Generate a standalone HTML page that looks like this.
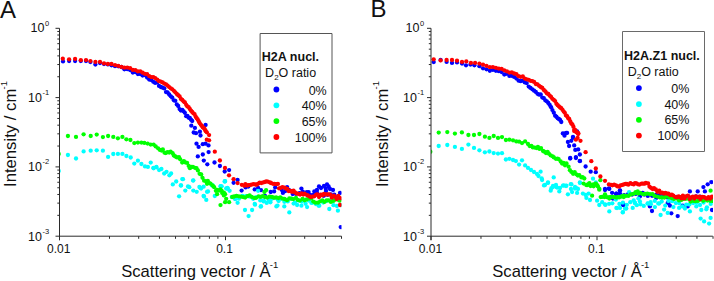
<!DOCTYPE html>
<html><head><meta charset="utf-8"><style>
html,body{margin:0;padding:0;background:#fff;width:714px;height:281px;overflow:hidden}
.t{position:absolute;font-family:"Liberation Sans",sans-serif;color:#111;white-space:nowrap;line-height:1}
.sp{font-size:7.5px;position:relative;top:-6.9px;margin-left:0.7px}
.sl{font-size:9.5px;position:relative;top:-9px;margin-left:-0.8px}
.sb{font-size:8px;position:relative;top:3px}
</style></head><body>
<svg width="714" height="281" style="position:absolute;left:0;top:0">
<defs>
<clipPath id="ca"><rect x="59.5" y="20" width="282" height="216"/></clipPath>
<clipPath id="cb"><rect x="431" y="20" width="282" height="216"/></clipPath>
</defs>
<g fill="#0000ff" clip-path="url(#ca)">
<circle cx="63.0" cy="61.4" r="2.15"/><circle cx="69.1" cy="61.0" r="2.15"/><circle cx="75.1" cy="61.0" r="2.15"/><circle cx="80.8" cy="61.0" r="2.15"/><circle cx="86.0" cy="61.0" r="2.15"/><circle cx="90.4" cy="62.0" r="2.15"/><circle cx="95.4" cy="64.5" r="2.15"/><circle cx="100.0" cy="63.0" r="2.15"/><circle cx="104.0" cy="64.1" r="2.15"/><circle cx="107.9" cy="64.4" r="2.15"/><circle cx="111.5" cy="65.3" r="2.15"/><circle cx="115.0" cy="66.2" r="2.15"/><circle cx="118.3" cy="66.3" r="2.15"/><circle cx="121.4" cy="67.0" r="2.15"/><circle cx="124.4" cy="69.3" r="2.15"/><circle cx="127.3" cy="69.2" r="2.15"/><circle cx="130.1" cy="70.0" r="2.15"/><circle cx="132.8" cy="72.5" r="2.15"/><circle cx="135.4" cy="72.2" r="2.15"/><circle cx="137.9" cy="74.1" r="2.15"/><circle cx="140.3" cy="74.1" r="2.15"/><circle cx="142.6" cy="75.5" r="2.15"/><circle cx="144.9" cy="75.0" r="2.15"/><circle cx="147.1" cy="77.6" r="2.15"/><circle cx="149.2" cy="79.6" r="2.15"/><circle cx="151.3" cy="80.0" r="2.15"/><circle cx="153.3" cy="81.8" r="2.15"/><circle cx="155.2" cy="82.9" r="2.15"/><circle cx="157.2" cy="82.4" r="2.15"/><circle cx="159.0" cy="85.9" r="2.15"/><circle cx="160.8" cy="87.0" r="2.15"/><circle cx="162.6" cy="87.7" r="2.15"/><circle cx="164.3" cy="88.4" r="2.15"/><circle cx="166.0" cy="92.1" r="2.15"/><circle cx="167.6" cy="92.5" r="2.15"/><circle cx="169.2" cy="94.5" r="2.15"/><circle cx="170.8" cy="96.3" r="2.15"/><circle cx="172.3" cy="97.7" r="2.15"/><circle cx="173.9" cy="100.3" r="2.15"/><circle cx="175.3" cy="100.8" r="2.15"/><circle cx="176.8" cy="104.4" r="2.15"/><circle cx="178.2" cy="106.0" r="2.15"/><circle cx="179.6" cy="109.1" r="2.15"/><circle cx="180.9" cy="110.5" r="2.15"/><circle cx="182.3" cy="109.8" r="2.15"/><circle cx="183.6" cy="111.3" r="2.15"/><circle cx="184.9" cy="112.8" r="2.15"/><circle cx="186.2" cy="116.2" r="2.15"/><circle cx="187.4" cy="115.9" r="2.15"/><circle cx="188.6" cy="117.7" r="2.15"/><circle cx="189.8" cy="118.0" r="2.15"/><circle cx="191.0" cy="119.7" r="2.15"/><circle cx="192.2" cy="121.0" r="2.15"/><circle cx="191.3" cy="125.7" r="2.15"/><circle cx="194.9" cy="127.9" r="2.15"/><circle cx="193.7" cy="132.5" r="2.15"/><circle cx="196.0" cy="133.2" r="2.15"/><circle cx="199.9" cy="131.7" r="2.15"/><circle cx="200.5" cy="135.5" r="2.15"/><circle cx="205.6" cy="125.0" r="2.15"/><circle cx="196.5" cy="143.7" r="2.15"/><circle cx="198.6" cy="146.9" r="2.15"/><circle cx="202.8" cy="144.2" r="2.15"/><circle cx="205.6" cy="143.7" r="2.15"/><circle cx="208.5" cy="145.4" r="2.15"/><circle cx="208.6" cy="152.1" r="2.15"/><circle cx="202.8" cy="154.5" r="2.15"/><circle cx="197.8" cy="156.4" r="2.15"/><circle cx="203.8" cy="160.6" r="2.15"/><circle cx="207.3" cy="164.3" r="2.15"/><circle cx="214.5" cy="162.5" r="2.15"/><circle cx="219.9" cy="166.0" r="2.15"/><circle cx="224.7" cy="171.5" r="2.15"/><circle cx="229.1" cy="170.1" r="2.15"/><circle cx="233.6" cy="182.8" r="2.15"/><circle cx="237.6" cy="180.0" r="2.15"/><circle cx="241.6" cy="190.6" r="2.15"/><circle cx="245.6" cy="187.4" r="2.15"/><circle cx="254.7" cy="189.4" r="2.15"/><circle cx="258.1" cy="188.0" r="2.15"/><circle cx="261.0" cy="190.2" r="2.15"/><circle cx="270.7" cy="192.0" r="2.15"/><circle cx="275.2" cy="187.4" r="2.15"/><circle cx="274.1" cy="191.4" r="2.15"/><circle cx="265.0" cy="196.0" r="2.15"/><circle cx="282.9" cy="192.9" r="2.15"/><circle cx="287.1" cy="187.1" r="2.15"/><circle cx="301.4" cy="188.6" r="2.15"/><circle cx="308.6" cy="192.1" r="2.15"/><circle cx="314.3" cy="191.4" r="2.15"/><circle cx="325.7" cy="188.6" r="2.15"/><circle cx="328.6" cy="186.4" r="2.15"/><circle cx="340.0" cy="192.9" r="2.15"/><circle cx="340.7" cy="227.1" r="2.15"/><circle cx="248.4" cy="186.5" r="2.15"/><circle cx="245.7" cy="186.4" r="2.15"/><circle cx="321.0" cy="188.0" r="2.15"/><circle cx="324.0" cy="186.0" r="2.15"/><circle cx="327.0" cy="184.5" r="2.15"/><circle cx="330.0" cy="189.0" r="2.15"/><circle cx="333.0" cy="190.0" r="2.15"/><circle cx="326.0" cy="191.0" r="2.15"/><circle cx="317.0" cy="190.0" r="2.15"/><circle cx="319.0" cy="186.5" r="2.15"/><circle cx="281.8" cy="190.0" r="2.15"/><circle cx="285.3" cy="191.1" r="2.15"/><circle cx="288.9" cy="190.0" r="2.15"/><circle cx="292.7" cy="194.1" r="2.15"/><circle cx="295.8" cy="193.8" r="2.15"/><circle cx="299.4" cy="193.1" r="2.15"/><circle cx="302.8" cy="191.7" r="2.15"/><circle cx="306.8" cy="192.1" r="2.15"/><circle cx="310.2" cy="194.9" r="2.15"/><circle cx="313.3" cy="195.0" r="2.15"/><circle cx="317.1" cy="193.0" r="2.15"/><circle cx="320.7" cy="195.0" r="2.15"/><circle cx="323.8" cy="195.8" r="2.15"/><circle cx="327.6" cy="194.8" r="2.15"/><circle cx="330.8" cy="194.5" r="2.15"/><circle cx="334.3" cy="194.6" r="2.15"/><circle cx="338.2" cy="196.8" r="2.15"/>
</g>
<g fill="#00ffff" clip-path="url(#ca)">
<circle cx="58.7" cy="171.0" r="2.15"/><circle cx="67.9" cy="155.0" r="2.15"/><circle cx="76.0" cy="158.5" r="2.15"/><circle cx="83.6" cy="151.4" r="2.15"/><circle cx="90.7" cy="150.7" r="2.15"/><circle cx="96.7" cy="150.3" r="2.15"/><circle cx="102.9" cy="150.7" r="2.15"/><circle cx="108.1" cy="156.9" r="2.15"/><circle cx="113.3" cy="154.0" r="2.15"/><circle cx="117.9" cy="153.9" r="2.15"/><circle cx="122.4" cy="153.9" r="2.15"/><circle cx="126.4" cy="156.0" r="2.15"/><circle cx="130.7" cy="157.5" r="2.15"/><circle cx="134.3" cy="163.6" r="2.15"/><circle cx="137.9" cy="160.7" r="2.15"/><circle cx="141.4" cy="164.0" r="2.15"/><circle cx="145.0" cy="166.4" r="2.15"/><circle cx="147.9" cy="166.9" r="2.15"/><circle cx="150.7" cy="162.6" r="2.15"/><circle cx="153.6" cy="168.3" r="2.15"/><circle cx="156.4" cy="166.9" r="2.15"/><circle cx="153.4" cy="167.8" r="2.15"/><circle cx="156.3" cy="167.3" r="2.15"/><circle cx="159.1" cy="170.1" r="2.15"/><circle cx="161.4" cy="169.0" r="2.15"/><circle cx="164.2" cy="173.5" r="2.15"/><circle cx="166.5" cy="171.8" r="2.15"/><circle cx="169.4" cy="175.3" r="2.15"/><circle cx="171.1" cy="173.5" r="2.15"/><circle cx="172.8" cy="184.4" r="2.15"/><circle cx="176.2" cy="181.5" r="2.15"/><circle cx="180.8" cy="185.5" r="2.15"/><circle cx="183.0" cy="179.2" r="2.15"/><circle cx="193.3" cy="180.4" r="2.15"/><circle cx="185.3" cy="190.6" r="2.15"/><circle cx="189.3" cy="187.2" r="2.15"/><circle cx="193.3" cy="190.6" r="2.15"/><circle cx="196.7" cy="191.8" r="2.15"/><circle cx="200.1" cy="187.8" r="2.15"/><circle cx="203.6" cy="186.7" r="2.15"/><circle cx="203.6" cy="195.8" r="2.15"/><circle cx="207.0" cy="191.8" r="2.15"/><circle cx="179.1" cy="196.3" r="2.15"/><circle cx="224.6" cy="181.5" r="2.15"/><circle cx="220.7" cy="186.1" r="2.15"/><circle cx="227.5" cy="187.8" r="2.15"/><circle cx="225.1" cy="181.1" r="2.15"/><circle cx="221.7" cy="186.3" r="2.15"/><circle cx="226.2" cy="188.5" r="2.15"/><circle cx="229.6" cy="190.8" r="2.15"/><circle cx="212.5" cy="185.1" r="2.15"/><circle cx="201.1" cy="188.5" r="2.15"/><circle cx="208.0" cy="191.4" r="2.15"/><circle cx="204.0" cy="196.5" r="2.15"/><circle cx="206.3" cy="199.9" r="2.15"/><circle cx="214.8" cy="196.0" r="2.15"/><circle cx="237.6" cy="202.8" r="2.15"/><circle cx="254.7" cy="203.9" r="2.15"/><circle cx="258.1" cy="190.8" r="2.15"/><circle cx="261.0" cy="206.2" r="2.15"/><circle cx="263.8" cy="201.1" r="2.15"/><circle cx="270.7" cy="199.9" r="2.15"/><circle cx="277.5" cy="205.6" r="2.15"/><circle cx="278.6" cy="201.1" r="2.15"/><circle cx="245.0" cy="210.0" r="2.15"/><circle cx="248.6" cy="216.1" r="2.15"/><circle cx="252.1" cy="210.0" r="2.15"/><circle cx="255.0" cy="204.7" r="2.15"/><circle cx="260.7" cy="206.7" r="2.15"/><circle cx="263.6" cy="201.4" r="2.15"/><circle cx="268.6" cy="200.0" r="2.15"/><circle cx="276.4" cy="206.4" r="2.15"/><circle cx="284.3" cy="206.4" r="2.15"/><circle cx="289.3" cy="212.4" r="2.15"/><circle cx="293.6" cy="203.6" r="2.15"/><circle cx="297.1" cy="205.0" r="2.15"/><circle cx="301.4" cy="205.7" r="2.15"/><circle cx="307.1" cy="207.1" r="2.15"/><circle cx="311.4" cy="202.9" r="2.15"/><circle cx="318.6" cy="205.7" r="2.15"/><circle cx="329.3" cy="209.0" r="2.15"/><circle cx="337.9" cy="210.7" r="2.15"/><circle cx="182.3" cy="179.1" r="2.15"/><circle cx="193.1" cy="180.6" r="2.15"/><circle cx="225.0" cy="181.4" r="2.15"/><circle cx="181.1" cy="185.4" r="2.15"/><circle cx="188.0" cy="186.5" r="2.15"/><circle cx="199.4" cy="187.0" r="2.15"/><circle cx="211.9" cy="185.4" r="2.15"/><circle cx="220.5" cy="186.5" r="2.15"/><circle cx="227.9" cy="188.8" r="2.15"/><circle cx="231.8" cy="197.1" r="2.15"/><circle cx="235.2" cy="199.2" r="2.15"/><circle cx="238.9" cy="198.7" r="2.15"/><circle cx="242.5" cy="196.0" r="2.15"/><circle cx="246.0" cy="196.1" r="2.15"/><circle cx="249.3" cy="196.5" r="2.15"/><circle cx="253.2" cy="198.8" r="2.15"/><circle cx="256.3" cy="197.2" r="2.15"/><circle cx="260.3" cy="200.4" r="2.15"/><circle cx="263.4" cy="200.3" r="2.15"/><circle cx="266.7" cy="202.9" r="2.15"/><circle cx="270.4" cy="202.3" r="2.15"/><circle cx="273.8" cy="198.2" r="2.15"/><circle cx="277.7" cy="199.4" r="2.15"/><circle cx="281.0" cy="198.8" r="2.15"/><circle cx="284.4" cy="201.8" r="2.15"/><circle cx="287.7" cy="201.4" r="2.15"/><circle cx="291.3" cy="198.7" r="2.15"/><circle cx="295.0" cy="202.6" r="2.15"/><circle cx="298.6" cy="200.6" r="2.15"/><circle cx="301.9" cy="201.6" r="2.15"/><circle cx="305.6" cy="203.8" r="2.15"/><circle cx="309.0" cy="200.7" r="2.15"/><circle cx="312.7" cy="202.6" r="2.15"/><circle cx="315.9" cy="204.0" r="2.15"/><circle cx="319.3" cy="205.7" r="2.15"/><circle cx="323.2" cy="202.5" r="2.15"/><circle cx="326.5" cy="201.1" r="2.15"/><circle cx="330.1" cy="200.6" r="2.15"/><circle cx="333.5" cy="205.2" r="2.15"/><circle cx="336.9" cy="206.0" r="2.15"/><circle cx="340.6" cy="205.1" r="2.15"/>
</g>
<g fill="#00ff00" clip-path="url(#ca)">
<circle cx="58.7" cy="154.0" r="2.15"/><circle cx="67.9" cy="136.0" r="2.15"/><circle cx="76.0" cy="136.9" r="2.15"/><circle cx="83.6" cy="134.3" r="2.15"/><circle cx="90.7" cy="136.0" r="2.15"/><circle cx="96.7" cy="134.6" r="2.15"/><circle cx="102.9" cy="137.1" r="2.15"/><circle cx="108.1" cy="136.0" r="2.15"/><circle cx="113.3" cy="136.9" r="2.15"/><circle cx="117.9" cy="138.3" r="2.15"/><circle cx="122.4" cy="136.9" r="2.15"/><circle cx="126.4" cy="139.3" r="2.15"/><circle cx="130.4" cy="140.0" r="2.15"/><circle cx="134.3" cy="143.1" r="2.15"/><circle cx="137.9" cy="142.6" r="2.15"/><circle cx="141.4" cy="142.6" r="2.15"/><circle cx="144.3" cy="142.9" r="2.15"/><circle cx="147.6" cy="143.6" r="2.15"/><circle cx="150.7" cy="144.6" r="2.15"/><circle cx="153.6" cy="144.6" r="2.15"/><circle cx="155.7" cy="146.4" r="2.15"/><circle cx="158.1" cy="148.3" r="2.15"/><circle cx="159.9" cy="149.9" r="2.15"/><circle cx="161.5" cy="150.6" r="2.15"/><circle cx="162.8" cy="149.4" r="2.15"/><circle cx="164.5" cy="152.7" r="2.15"/><circle cx="165.8" cy="153.1" r="2.15"/><circle cx="167.4" cy="152.1" r="2.15"/><circle cx="169.2" cy="152.5" r="2.15"/><circle cx="170.6" cy="151.6" r="2.15"/><circle cx="172.6" cy="153.2" r="2.15"/><circle cx="173.8" cy="155.5" r="2.15"/><circle cx="175.4" cy="156.5" r="2.15"/><circle cx="177.0" cy="157.4" r="2.15"/><circle cx="179.0" cy="157.2" r="2.15"/><circle cx="180.2" cy="159.3" r="2.15"/><circle cx="182.2" cy="162.6" r="2.15"/><circle cx="183.9" cy="161.2" r="2.15"/><circle cx="185.3" cy="162.4" r="2.15"/><circle cx="187.1" cy="162.9" r="2.15"/><circle cx="188.7" cy="165.9" r="2.15"/><circle cx="189.9" cy="168.2" r="2.15"/><circle cx="191.4" cy="167.0" r="2.15"/><circle cx="192.9" cy="166.8" r="2.15"/><circle cx="194.9" cy="167.8" r="2.15"/><circle cx="196.5" cy="168.2" r="2.15"/><circle cx="197.9" cy="170.4" r="2.15"/><circle cx="199.6" cy="173.8" r="2.15"/><circle cx="201.2" cy="174.5" r="2.15"/><circle cx="202.5" cy="177.8" r="2.15"/><circle cx="204.1" cy="180.7" r="2.15"/><circle cx="206.2" cy="181.5" r="2.15"/><circle cx="207.8" cy="180.8" r="2.15"/><circle cx="209.2" cy="183.2" r="2.15"/><circle cx="210.5" cy="183.6" r="2.15"/><circle cx="212.7" cy="185.6" r="2.15"/><circle cx="214.2" cy="187.2" r="2.15"/><circle cx="215.9" cy="190.8" r="2.15"/><circle cx="217.1" cy="189.8" r="2.15"/><circle cx="219.0" cy="190.5" r="2.15"/><circle cx="220.5" cy="189.5" r="2.15"/><circle cx="222.2" cy="193.0" r="2.15"/><circle cx="223.9" cy="192.7" r="2.15"/><circle cx="225.1" cy="194.2" r="2.15"/><circle cx="221.7" cy="190.8" r="2.15"/><circle cx="217.1" cy="194.2" r="2.15"/><circle cx="223.9" cy="195.4" r="2.15"/><circle cx="226.2" cy="198.8" r="2.15"/><circle cx="229.1" cy="202.2" r="2.15"/><circle cx="225.1" cy="202.2" r="2.15"/><circle cx="220.5" cy="205.1" r="2.15"/><circle cx="207.0" cy="183.8" r="2.15"/><circle cx="232.2" cy="197.0" r="2.15"/><circle cx="234.1" cy="196.5" r="2.15"/><circle cx="236.5" cy="195.9" r="2.15"/><circle cx="238.8" cy="196.3" r="2.15"/><circle cx="241.0" cy="196.7" r="2.15"/><circle cx="243.2" cy="197.1" r="2.15"/><circle cx="245.1" cy="197.6" r="2.15"/><circle cx="247.5" cy="196.2" r="2.15"/><circle cx="249.6" cy="195.3" r="2.15"/><circle cx="251.7" cy="196.9" r="2.15"/><circle cx="254.1" cy="197.8" r="2.15"/><circle cx="256.1" cy="197.8" r="2.15"/><circle cx="258.6" cy="196.4" r="2.15"/><circle cx="260.6" cy="196.9" r="2.15"/><circle cx="262.6" cy="196.1" r="2.15"/><circle cx="264.9" cy="197.0" r="2.15"/><circle cx="267.3" cy="197.6" r="2.15"/><circle cx="269.5" cy="196.7" r="2.15"/><circle cx="271.9" cy="196.9" r="2.15"/><circle cx="273.8" cy="197.7" r="2.15"/><circle cx="276.1" cy="197.5" r="2.15"/><circle cx="278.5" cy="198.1" r="2.15"/><circle cx="280.3" cy="197.3" r="2.15"/><circle cx="282.5" cy="198.6" r="2.15"/><circle cx="284.6" cy="199.0" r="2.15"/><circle cx="287.0" cy="200.2" r="2.15"/><circle cx="289.3" cy="198.3" r="2.15"/><circle cx="291.2" cy="198.7" r="2.15"/><circle cx="293.4" cy="199.1" r="2.15"/><circle cx="296.0" cy="197.9" r="2.15"/><circle cx="297.7" cy="199.9" r="2.15"/><circle cx="299.9" cy="200.6" r="2.15"/><circle cx="302.6" cy="198.8" r="2.15"/><circle cx="304.5" cy="200.3" r="2.15"/><circle cx="306.7" cy="199.5" r="2.15"/><circle cx="309.3" cy="198.5" r="2.15"/><circle cx="311.2" cy="198.4" r="2.15"/><circle cx="313.3" cy="201.6" r="2.15"/><circle cx="315.4" cy="202.7" r="2.15"/><circle cx="318.0" cy="202.7" r="2.15"/><circle cx="320.2" cy="201.3" r="2.15"/><circle cx="322.4" cy="200.3" r="2.15"/><circle cx="324.4" cy="201.9" r="2.15"/><circle cx="326.7" cy="200.4" r="2.15"/><circle cx="328.6" cy="200.3" r="2.15"/><circle cx="330.9" cy="201.9" r="2.15"/><circle cx="333.4" cy="200.9" r="2.15"/><circle cx="335.1" cy="199.6" r="2.15"/><circle cx="337.7" cy="199.5" r="2.15"/><circle cx="339.7" cy="200.7" r="2.15"/><circle cx="264.4" cy="192.0" r="2.15"/><circle cx="266.1" cy="190.2" r="2.15"/>
</g>
<g fill="#ff0000" clip-path="url(#ca)">
<circle cx="62.8" cy="58.7" r="2.15"/><circle cx="69.1" cy="59.3" r="2.15"/><circle cx="75.1" cy="58.9" r="2.15"/><circle cx="80.8" cy="60.2" r="2.15"/><circle cx="86.0" cy="60.1" r="2.15"/><circle cx="90.4" cy="61.1" r="2.15"/><circle cx="95.4" cy="61.9" r="2.15"/><circle cx="100.0" cy="61.9" r="2.15"/><circle cx="104.0" cy="63.4" r="2.15"/><circle cx="107.9" cy="64.0" r="2.15"/><circle cx="111.5" cy="64.0" r="2.15"/><circle cx="115.0" cy="65.1" r="2.15"/><circle cx="118.3" cy="65.9" r="2.15"/><circle cx="121.4" cy="66.9" r="2.15"/><circle cx="124.4" cy="67.7" r="2.15"/><circle cx="127.3" cy="67.6" r="2.15"/><circle cx="130.1" cy="68.2" r="2.15"/><circle cx="132.8" cy="69.9" r="2.15"/><circle cx="135.4" cy="70.1" r="2.15"/><circle cx="137.9" cy="71.4" r="2.15"/><circle cx="140.3" cy="71.3" r="2.15"/><circle cx="142.6" cy="72.7" r="2.15"/><circle cx="144.9" cy="73.8" r="2.15"/><circle cx="147.1" cy="74.2" r="2.15"/><circle cx="149.2" cy="76.1" r="2.15"/><circle cx="151.3" cy="77.1" r="2.15"/><circle cx="153.3" cy="77.1" r="2.15"/><circle cx="155.2" cy="78.1" r="2.15"/><circle cx="157.2" cy="79.6" r="2.15"/><circle cx="159.0" cy="81.2" r="2.15"/><circle cx="160.8" cy="81.6" r="2.15"/><circle cx="162.6" cy="82.4" r="2.15"/><circle cx="164.3" cy="83.6" r="2.15"/><circle cx="166.0" cy="84.3" r="2.15"/><circle cx="167.6" cy="85.7" r="2.15"/><circle cx="169.2" cy="87.1" r="2.15"/><circle cx="170.8" cy="88.3" r="2.15"/><circle cx="172.3" cy="89.3" r="2.15"/><circle cx="173.9" cy="90.8" r="2.15"/><circle cx="175.3" cy="92.3" r="2.15"/><circle cx="176.8" cy="94.0" r="2.15"/><circle cx="178.2" cy="95.2" r="2.15"/><circle cx="179.6" cy="96.4" r="2.15"/><circle cx="180.9" cy="98.9" r="2.15"/><circle cx="182.3" cy="100.0" r="2.15"/><circle cx="183.6" cy="101.5" r="2.15"/><circle cx="184.9" cy="102.4" r="2.15"/><circle cx="186.2" cy="104.8" r="2.15"/><circle cx="187.4" cy="106.4" r="2.15"/><circle cx="188.6" cy="107.1" r="2.15"/><circle cx="189.8" cy="109.0" r="2.15"/><circle cx="191.0" cy="110.7" r="2.15"/><circle cx="192.2" cy="111.9" r="2.15"/><circle cx="193.3" cy="113.3" r="2.15"/><circle cx="194.5" cy="114.1" r="2.15"/><circle cx="195.6" cy="116.5" r="2.15"/><circle cx="196.7" cy="118.2" r="2.15"/><circle cx="197.7" cy="119.5" r="2.15"/><circle cx="198.8" cy="121.4" r="2.15"/><circle cx="199.8" cy="123.3" r="2.15"/><circle cx="200.9" cy="124.8" r="2.15"/><circle cx="201.9" cy="125.9" r="2.15"/><circle cx="202.9" cy="127.4" r="2.15"/><circle cx="203.9" cy="128.0" r="2.15"/><circle cx="204.9" cy="129.4" r="2.15"/><circle cx="205.8" cy="131.2" r="2.15"/><circle cx="206.8" cy="132.3" r="2.15"/><circle cx="209.1" cy="135.1" r="2.15"/><circle cx="206.8" cy="139.7" r="2.15"/><circle cx="209.1" cy="140.3" r="2.15"/><circle cx="214.8" cy="151.7" r="2.15"/><circle cx="219.9" cy="160.5" r="2.15"/><circle cx="225.0" cy="168.0" r="2.15"/><circle cx="229.0" cy="175.3" r="2.15"/><circle cx="233.6" cy="179.2" r="2.15"/><circle cx="237.6" cy="183.1" r="2.15"/><circle cx="241.8" cy="184.8" r="2.15"/><circle cx="244.3" cy="185.7" r="2.15"/><circle cx="245.4" cy="184.1" r="2.15"/><circle cx="247.3" cy="185.5" r="2.15"/><circle cx="248.7" cy="185.1" r="2.15"/><circle cx="250.5" cy="184.8" r="2.15"/><circle cx="251.8" cy="184.6" r="2.15"/><circle cx="253.5" cy="184.2" r="2.15"/><circle cx="255.5" cy="184.5" r="2.15"/><circle cx="256.8" cy="184.7" r="2.15"/><circle cx="258.3" cy="183.6" r="2.15"/><circle cx="259.7" cy="182.6" r="2.15"/><circle cx="261.5" cy="183.0" r="2.15"/><circle cx="263.4" cy="182.3" r="2.15"/><circle cx="264.8" cy="182.1" r="2.15"/><circle cx="266.1" cy="181.3" r="2.15"/><circle cx="267.8" cy="181.7" r="2.15"/><circle cx="269.9" cy="182.4" r="2.15"/><circle cx="271.0" cy="183.0" r="2.15"/><circle cx="273.0" cy="183.8" r="2.15"/><circle cx="274.6" cy="183.8" r="2.15"/><circle cx="276.2" cy="184.2" r="2.15"/><circle cx="277.9" cy="183.9" r="2.15"/><circle cx="279.0" cy="188.3" r="2.15"/><circle cx="280.9" cy="187.8" r="2.15"/><circle cx="282.4" cy="187.1" r="2.15"/><circle cx="284.3" cy="187.6" r="2.15"/><circle cx="285.8" cy="188.5" r="2.15"/><circle cx="287.4" cy="188.9" r="2.15"/><circle cx="288.8" cy="191.2" r="2.15"/><circle cx="290.7" cy="191.0" r="2.15"/><circle cx="292.0" cy="191.8" r="2.15"/><circle cx="293.5" cy="190.6" r="2.15"/><circle cx="295.0" cy="192.4" r="2.15"/><circle cx="296.7" cy="193.4" r="2.15"/><circle cx="298.3" cy="193.9" r="2.15"/><circle cx="300.1" cy="194.6" r="2.15"/><circle cx="301.6" cy="193.5" r="2.15"/><circle cx="303.3" cy="194.5" r="2.15"/><circle cx="304.6" cy="193.7" r="2.15"/><circle cx="306.7" cy="194.8" r="2.15"/><circle cx="307.7" cy="195.5" r="2.15"/><circle cx="309.7" cy="196.5" r="2.15"/><circle cx="311.0" cy="197.1" r="2.15"/><circle cx="312.5" cy="196.6" r="2.15"/><circle cx="314.3" cy="196.3" r="2.15"/><circle cx="316.2" cy="194.7" r="2.15"/><circle cx="317.6" cy="194.3" r="2.15"/><circle cx="319.0" cy="197.0" r="2.15"/><circle cx="321.0" cy="194.7" r="2.15"/><circle cx="322.5" cy="195.4" r="2.15"/><circle cx="323.9" cy="194.0" r="2.15"/><circle cx="325.7" cy="194.5" r="2.15"/><circle cx="327.5" cy="194.4" r="2.15"/><circle cx="328.9" cy="194.4" r="2.15"/><circle cx="330.3" cy="194.7" r="2.15"/><circle cx="331.8" cy="197.7" r="2.15"/><circle cx="333.7" cy="195.7" r="2.15"/><circle cx="334.9" cy="196.7" r="2.15"/><circle cx="336.6" cy="199.1" r="2.15"/><circle cx="338.3" cy="195.9" r="2.15"/><circle cx="340.1" cy="198.2" r="2.15"/><circle cx="340.0" cy="205.0" r="2.15"/>
</g>
<g fill="#0000ff" clip-path="url(#cb)">
<circle cx="433.7" cy="62.1" r="2.15"/><circle cx="440.6" cy="60.0" r="2.15"/><circle cx="446.6" cy="61.9" r="2.15"/><circle cx="452.0" cy="62.9" r="2.15"/><circle cx="457.0" cy="62.4" r="2.15"/><circle cx="462.0" cy="63.5" r="2.15"/><circle cx="466.0" cy="65.3" r="2.15"/><circle cx="470.5" cy="64.5" r="2.15"/><circle cx="474.4" cy="65.3" r="2.15"/><circle cx="479.4" cy="66.2" r="2.15"/><circle cx="483.0" cy="68.3" r="2.15"/><circle cx="486.5" cy="69.3" r="2.15"/><circle cx="489.8" cy="70.8" r="2.15"/><circle cx="492.9" cy="69.9" r="2.15"/><circle cx="495.9" cy="70.8" r="2.15"/><circle cx="498.8" cy="71.2" r="2.15"/><circle cx="501.6" cy="72.1" r="2.15"/><circle cx="504.3" cy="74.5" r="2.15"/><circle cx="506.9" cy="73.8" r="2.15"/><circle cx="509.4" cy="75.9" r="2.15"/><circle cx="511.8" cy="75.8" r="2.15"/><circle cx="514.1" cy="76.9" r="2.15"/><circle cx="516.4" cy="78.5" r="2.15"/><circle cx="518.6" cy="80.7" r="2.15"/><circle cx="520.7" cy="81.2" r="2.15"/><circle cx="522.8" cy="80.6" r="2.15"/><circle cx="524.8" cy="82.4" r="2.15"/><circle cx="526.7" cy="83.1" r="2.15"/><circle cx="528.7" cy="86.6" r="2.15"/><circle cx="530.5" cy="87.9" r="2.15"/><circle cx="532.3" cy="89.3" r="2.15"/><circle cx="534.1" cy="90.7" r="2.15"/><circle cx="535.8" cy="91.9" r="2.15"/><circle cx="537.5" cy="93.8" r="2.15"/><circle cx="539.1" cy="94.7" r="2.15"/><circle cx="540.7" cy="94.5" r="2.15"/><circle cx="542.3" cy="97.6" r="2.15"/><circle cx="543.8" cy="98.1" r="2.15"/><circle cx="545.4" cy="100.4" r="2.15"/><circle cx="546.8" cy="101.3" r="2.15"/><circle cx="548.3" cy="103.0" r="2.15"/><circle cx="549.7" cy="104.9" r="2.15"/><circle cx="551.1" cy="107.2" r="2.15"/><circle cx="552.4" cy="110.1" r="2.15"/><circle cx="553.8" cy="112.7" r="2.15"/><circle cx="555.1" cy="115.7" r="2.15"/><circle cx="556.4" cy="116.7" r="2.15"/><circle cx="557.7" cy="118.3" r="2.15"/><circle cx="558.9" cy="118.9" r="2.15"/><circle cx="560.1" cy="120.0" r="2.15"/><circle cx="561.3" cy="122.0" r="2.15"/><circle cx="564.3" cy="133.6" r="2.15"/><circle cx="567.1" cy="132.9" r="2.15"/><circle cx="572.9" cy="137.9" r="2.15"/><circle cx="577.1" cy="131.4" r="2.15"/><circle cx="562.8" cy="133.4" r="2.15"/><circle cx="566.2" cy="132.8" r="2.15"/><circle cx="564.5" cy="135.7" r="2.15"/><circle cx="573.0" cy="136.8" r="2.15"/><circle cx="567.9" cy="142.0" r="2.15"/><circle cx="571.3" cy="140.8" r="2.15"/><circle cx="569.1" cy="146.0" r="2.15"/><circle cx="574.2" cy="145.4" r="2.15"/><circle cx="575.3" cy="149.9" r="2.15"/><circle cx="578.2" cy="149.4" r="2.15"/><circle cx="579.9" cy="154.5" r="2.15"/><circle cx="575.9" cy="157.1" r="2.15"/><circle cx="570.2" cy="157.9" r="2.15"/><circle cx="579.9" cy="160.8" r="2.15"/><circle cx="570.2" cy="158.6" r="2.15"/><circle cx="575.9" cy="158.0" r="2.15"/><circle cx="579.9" cy="161.2" r="2.15"/><circle cx="585.6" cy="166.5" r="2.15"/><circle cx="590.7" cy="171.7" r="2.15"/><circle cx="595.8" cy="172.2" r="2.15"/><circle cx="605.0" cy="188.8" r="2.15"/><circle cx="608.9" cy="188.5" r="2.15"/><circle cx="605.0" cy="190.0" r="2.15"/><circle cx="609.3" cy="188.9" r="2.15"/><circle cx="620.0" cy="190.3" r="2.15"/><circle cx="616.4" cy="193.6" r="2.15"/><circle cx="612.9" cy="198.6" r="2.15"/><circle cx="623.3" cy="205.0" r="2.15"/><circle cx="616.3" cy="193.6" r="2.15"/><circle cx="619.9" cy="190.7" r="2.15"/><circle cx="642.7" cy="192.9" r="2.15"/><circle cx="656.3" cy="197.9" r="2.15"/><circle cx="689.9" cy="191.4" r="2.15"/><circle cx="697.7" cy="191.4" r="2.15"/><circle cx="703.4" cy="187.1" r="2.15"/><circle cx="704.9" cy="191.4" r="2.15"/><circle cx="707.7" cy="184.3" r="2.15"/><circle cx="711.3" cy="182.1" r="2.15"/><circle cx="623.4" cy="204.3" r="2.15"/><circle cx="668.4" cy="202.9" r="2.15"/><circle cx="623.1" cy="205.0" r="2.15"/><circle cx="652.0" cy="211.0" r="2.15"/><circle cx="649.9" cy="206.4" r="2.15"/><circle cx="667.7" cy="202.9" r="2.15"/><circle cx="669.9" cy="205.7" r="2.15"/><circle cx="671.3" cy="213.3" r="2.15"/><circle cx="677.7" cy="216.1" r="2.15"/><circle cx="682.7" cy="205.7" r="2.15"/><circle cx="687.7" cy="206.4" r="2.15"/><circle cx="712.0" cy="210.0" r="2.15"/><circle cx="612.1" cy="192.8" r="2.15"/><circle cx="616.3" cy="194.6" r="2.15"/><circle cx="619.9" cy="193.6" r="2.15"/><circle cx="624.1" cy="195.2" r="2.15"/><circle cx="628.1" cy="194.1" r="2.15"/><circle cx="632.2" cy="194.5" r="2.15"/><circle cx="635.8" cy="193.9" r="2.15"/><circle cx="639.9" cy="196.4" r="2.15"/><circle cx="644.2" cy="194.6" r="2.15"/><circle cx="647.8" cy="195.9" r="2.15"/><circle cx="652.1" cy="195.8" r="2.15"/><circle cx="656.1" cy="194.8" r="2.15"/><circle cx="659.9" cy="194.9" r="2.15"/><circle cx="663.8" cy="194.9" r="2.15"/><circle cx="667.9" cy="197.7" r="2.15"/><circle cx="672.0" cy="197.9" r="2.15"/><circle cx="676.2" cy="196.9" r="2.15"/><circle cx="679.8" cy="197.3" r="2.15"/><circle cx="684.1" cy="197.2" r="2.15"/><circle cx="687.8" cy="196.1" r="2.15"/><circle cx="692.0" cy="198.3" r="2.15"/><circle cx="696.0" cy="196.4" r="2.15"/><circle cx="700.2" cy="196.7" r="2.15"/><circle cx="703.8" cy="197.7" r="2.15"/><circle cx="707.8" cy="198.8" r="2.15"/><circle cx="711.7" cy="197.3" r="2.15"/>
</g>
<g fill="#00ffff" clip-path="url(#cb)">
<circle cx="438.7" cy="146.0" r="2.15"/><circle cx="447.3" cy="145.0" r="2.15"/><circle cx="454.9" cy="146.9" r="2.15"/><circle cx="461.9" cy="148.9" r="2.15"/><circle cx="468.4" cy="144.6" r="2.15"/><circle cx="474.0" cy="147.9" r="2.15"/><circle cx="479.4" cy="150.3" r="2.15"/><circle cx="484.9" cy="152.3" r="2.15"/><circle cx="489.4" cy="151.5" r="2.15"/><circle cx="493.7" cy="153.1" r="2.15"/><circle cx="498.0" cy="153.6" r="2.15"/><circle cx="502.0" cy="153.2" r="2.15"/><circle cx="505.9" cy="159.5" r="2.15"/><circle cx="509.4" cy="158.8" r="2.15"/><circle cx="513.0" cy="160.0" r="2.15"/><circle cx="515.9" cy="161.1" r="2.15"/><circle cx="519.1" cy="164.6" r="2.15"/><circle cx="522.0" cy="160.3" r="2.15"/><circle cx="525.1" cy="165.4" r="2.15"/><circle cx="528.0" cy="167.9" r="2.15"/><circle cx="542.1" cy="180.0" r="2.15"/><circle cx="545.0" cy="185.0" r="2.15"/><circle cx="547.9" cy="182.9" r="2.15"/><circle cx="550.7" cy="190.7" r="2.15"/><circle cx="552.9" cy="187.1" r="2.15"/><circle cx="556.4" cy="187.1" r="2.15"/><circle cx="559.3" cy="191.4" r="2.15"/><circle cx="562.9" cy="185.7" r="2.15"/><circle cx="566.4" cy="185.7" r="2.15"/><circle cx="571.4" cy="184.3" r="2.15"/><circle cx="567.9" cy="194.3" r="2.15"/><circle cx="572.1" cy="192.1" r="2.15"/><circle cx="577.1" cy="192.9" r="2.15"/><circle cx="575.0" cy="188.6" r="2.15"/><circle cx="580.0" cy="182.9" r="2.15"/><circle cx="582.9" cy="193.6" r="2.15"/><circle cx="585.7" cy="195.0" r="2.15"/><circle cx="588.6" cy="193.6" r="2.15"/><circle cx="590.0" cy="200.0" r="2.15"/><circle cx="586.4" cy="197.9" r="2.15"/><circle cx="597.1" cy="200.7" r="2.15"/><circle cx="599.3" cy="205.0" r="2.15"/><circle cx="605.0" cy="204.3" r="2.15"/><circle cx="609.3" cy="211.4" r="2.15"/><circle cx="616.4" cy="207.9" r="2.15"/><circle cx="620.0" cy="207.9" r="2.15"/><circle cx="622.9" cy="212.1" r="2.15"/><circle cx="625.0" cy="208.6" r="2.15"/><circle cx="540.6" cy="171.7" r="2.15"/><circle cx="541.7" cy="178.5" r="2.15"/><circle cx="553.7" cy="177.4" r="2.15"/><circle cx="548.0" cy="182.5" r="2.15"/><circle cx="544.0" cy="185.4" r="2.15"/><circle cx="551.4" cy="188.2" r="2.15"/><circle cx="557.1" cy="187.6" r="2.15"/><circle cx="563.9" cy="185.4" r="2.15"/><circle cx="570.8" cy="184.2" r="2.15"/><circle cx="579.9" cy="182.5" r="2.15"/><circle cx="576.5" cy="188.2" r="2.15"/><circle cx="593.0" cy="178.7" r="2.15"/><circle cx="595.8" cy="182.5" r="2.15"/><circle cx="531.0" cy="170.0" r="2.15"/><circle cx="534.0" cy="172.0" r="2.15"/><circle cx="537.0" cy="174.0" r="2.15"/><circle cx="538.5" cy="176.0" r="2.15"/><circle cx="553.0" cy="186.0" r="2.15"/><circle cx="556.0" cy="185.0" r="2.15"/><circle cx="560.0" cy="188.0" r="2.15"/><circle cx="566.0" cy="186.0" r="2.15"/><circle cx="571.0" cy="189.0" r="2.15"/><circle cx="575.0" cy="187.0" r="2.15"/><circle cx="578.0" cy="189.0" r="2.15"/><circle cx="629.1" cy="192.1" r="2.15"/><circle cx="638.4" cy="198.6" r="2.15"/><circle cx="634.9" cy="202.9" r="2.15"/><circle cx="650.6" cy="202.1" r="2.15"/><circle cx="617.0" cy="208.1" r="2.15"/><circle cx="622.7" cy="212.4" r="2.15"/><circle cx="626.3" cy="208.6" r="2.15"/><circle cx="632.7" cy="207.9" r="2.15"/><circle cx="634.9" cy="202.9" r="2.15"/><circle cx="639.9" cy="201.4" r="2.15"/><circle cx="647.7" cy="203.6" r="2.15"/><circle cx="654.9" cy="207.1" r="2.15"/><circle cx="660.6" cy="215.0" r="2.15"/><circle cx="664.1" cy="209.6" r="2.15"/><circle cx="667.7" cy="212.9" r="2.15"/><circle cx="659.1" cy="203.6" r="2.15"/><circle cx="673.4" cy="207.1" r="2.15"/><circle cx="679.1" cy="207.9" r="2.15"/><circle cx="684.9" cy="208.6" r="2.15"/><circle cx="689.9" cy="211.4" r="2.15"/><circle cx="696.3" cy="206.4" r="2.15"/><circle cx="701.3" cy="210.0" r="2.15"/><circle cx="706.3" cy="209.3" r="2.15"/><circle cx="700.6" cy="218.6" r="2.15"/><circle cx="704.1" cy="221.4" r="2.15"/><circle cx="709.1" cy="223.6" r="2.15"/><circle cx="710.6" cy="217.9" r="2.15"/><circle cx="602.2" cy="202.2" r="2.15"/><circle cx="605.4" cy="204.9" r="2.15"/><circle cx="609.1" cy="203.8" r="2.15"/><circle cx="612.3" cy="203.3" r="2.15"/><circle cx="615.9" cy="199.6" r="2.15"/><circle cx="619.4" cy="204.0" r="2.15"/><circle cx="622.9" cy="202.6" r="2.15"/><circle cx="626.8" cy="204.8" r="2.15"/><circle cx="630.3" cy="202.2" r="2.15"/><circle cx="633.7" cy="200.3" r="2.15"/><circle cx="636.8" cy="205.2" r="2.15"/><circle cx="640.5" cy="204.3" r="2.15"/><circle cx="643.8" cy="205.9" r="2.15"/><circle cx="647.7" cy="203.5" r="2.15"/><circle cx="650.9" cy="204.2" r="2.15"/><circle cx="654.8" cy="200.9" r="2.15"/><circle cx="658.3" cy="203.4" r="2.15"/><circle cx="661.7" cy="201.5" r="2.15"/><circle cx="665.3" cy="205.6" r="2.15"/><circle cx="668.4" cy="200.9" r="2.15"/><circle cx="672.2" cy="201.2" r="2.15"/><circle cx="675.8" cy="203.1" r="2.15"/><circle cx="679.2" cy="203.3" r="2.15"/><circle cx="682.3" cy="206.4" r="2.15"/><circle cx="686.3" cy="204.6" r="2.15"/><circle cx="689.4" cy="204.5" r="2.15"/><circle cx="693.2" cy="203.1" r="2.15"/><circle cx="696.6" cy="202.7" r="2.15"/><circle cx="700.0" cy="205.0" r="2.15"/><circle cx="703.6" cy="202.5" r="2.15"/><circle cx="706.9" cy="207.3" r="2.15"/><circle cx="710.7" cy="203.9" r="2.15"/>
</g>
<g fill="#00ff00" clip-path="url(#cb)">
<circle cx="430.3" cy="151.7" r="2.15"/><circle cx="438.7" cy="132.6" r="2.15"/><circle cx="447.3" cy="132.1" r="2.15"/><circle cx="454.9" cy="133.6" r="2.15"/><circle cx="461.9" cy="132.4" r="2.15"/><circle cx="468.4" cy="135.0" r="2.15"/><circle cx="474.0" cy="135.0" r="2.15"/><circle cx="479.4" cy="134.0" r="2.15"/><circle cx="484.9" cy="136.7" r="2.15"/><circle cx="489.4" cy="137.9" r="2.15"/><circle cx="493.7" cy="136.0" r="2.15"/><circle cx="498.0" cy="137.9" r="2.15"/><circle cx="502.0" cy="137.1" r="2.15"/><circle cx="505.9" cy="140.0" r="2.15"/><circle cx="509.4" cy="139.7" r="2.15"/><circle cx="513.0" cy="140.3" r="2.15"/><circle cx="516.3" cy="141.4" r="2.15"/><circle cx="519.1" cy="141.7" r="2.15"/><circle cx="522.0" cy="143.1" r="2.15"/><circle cx="525.1" cy="141.4" r="2.15"/><circle cx="528.0" cy="144.0" r="2.15"/><circle cx="529.7" cy="146.1" r="2.15"/><circle cx="531.4" cy="146.0" r="2.15"/><circle cx="532.9" cy="147.4" r="2.15"/><circle cx="534.9" cy="147.6" r="2.15"/><circle cx="536.7" cy="148.1" r="2.15"/><circle cx="537.9" cy="146.9" r="2.15"/><circle cx="539.5" cy="148.9" r="2.15"/><circle cx="541.0" cy="148.1" r="2.15"/><circle cx="543.0" cy="150.9" r="2.15"/><circle cx="544.2" cy="151.7" r="2.15"/><circle cx="546.0" cy="153.0" r="2.15"/><circle cx="547.6" cy="152.0" r="2.15"/><circle cx="548.9" cy="153.7" r="2.15"/><circle cx="550.7" cy="155.4" r="2.15"/><circle cx="552.7" cy="156.3" r="2.15"/><circle cx="553.9" cy="157.4" r="2.15"/><circle cx="555.9" cy="158.8" r="2.15"/><circle cx="557.5" cy="158.6" r="2.15"/><circle cx="558.6" cy="159.1" r="2.15"/><circle cx="560.7" cy="161.5" r="2.15"/><circle cx="562.1" cy="163.6" r="2.15"/><circle cx="563.6" cy="162.9" r="2.15"/><circle cx="565.0" cy="165.3" r="2.15"/><circle cx="566.5" cy="163.5" r="2.15"/><circle cx="568.6" cy="166.7" r="2.15"/><circle cx="569.9" cy="170.2" r="2.15"/><circle cx="571.4" cy="171.9" r="2.15"/><circle cx="573.1" cy="173.8" r="2.15"/><circle cx="574.7" cy="172.1" r="2.15"/><circle cx="576.3" cy="174.3" r="2.15"/><circle cx="577.9" cy="175.5" r="2.15"/><circle cx="579.3" cy="175.1" r="2.15"/><circle cx="581.4" cy="177.4" r="2.15"/><circle cx="582.6" cy="177.2" r="2.15"/><circle cx="584.3" cy="178.5" r="2.15"/><circle cx="586.3" cy="185.1" r="2.15"/><circle cx="587.5" cy="185.0" r="2.15"/><circle cx="589.4" cy="183.1" r="2.15"/><circle cx="590.6" cy="186.1" r="2.15"/><circle cx="592.4" cy="184.8" r="2.15"/><circle cx="593.7" cy="186.3" r="2.15"/><circle cx="595.8" cy="183.6" r="2.15"/><circle cx="597.2" cy="185.2" r="2.15"/><circle cx="583.6" cy="183.6" r="2.15"/><circle cx="587.9" cy="184.3" r="2.15"/><circle cx="593.6" cy="184.3" r="2.15"/><circle cx="597.9" cy="186.4" r="2.15"/><circle cx="599.3" cy="189.7" r="2.15"/><circle cx="592.1" cy="195.7" r="2.15"/><circle cx="600.7" cy="197.1" r="2.15"/><circle cx="605.0" cy="194.3" r="2.15"/><circle cx="609.3" cy="198.6" r="2.15"/><circle cx="612.9" cy="197.1" r="2.15"/><circle cx="617.9" cy="197.1" r="2.15"/><circle cx="623.6" cy="195.7" r="2.15"/><circle cx="600.4" cy="180.2" r="2.15"/><circle cx="599.3" cy="188.8" r="2.15"/><circle cx="635.6" cy="192.1" r="2.15"/><circle cx="637.7" cy="191.4" r="2.15"/><circle cx="710.6" cy="190.7" r="2.15"/><circle cx="602.0" cy="196.9" r="2.15"/><circle cx="604.4" cy="197.1" r="2.15"/><circle cx="606.9" cy="197.2" r="2.15"/><circle cx="609.3" cy="197.1" r="2.15"/><circle cx="611.5" cy="196.9" r="2.15"/><circle cx="613.8" cy="197.1" r="2.15"/><circle cx="616.3" cy="197.5" r="2.15"/><circle cx="619.1" cy="197.4" r="2.15"/><circle cx="621.4" cy="196.5" r="2.15"/><circle cx="623.7" cy="197.1" r="2.15"/><circle cx="626.0" cy="195.8" r="2.15"/><circle cx="628.3" cy="195.9" r="2.15"/><circle cx="630.7" cy="194.5" r="2.15"/><circle cx="633.4" cy="193.8" r="2.15"/><circle cx="635.6" cy="193.1" r="2.15"/><circle cx="638.3" cy="193.5" r="2.15"/><circle cx="640.1" cy="193.0" r="2.15"/><circle cx="643.0" cy="194.2" r="2.15"/><circle cx="645.2" cy="194.0" r="2.15"/><circle cx="647.4" cy="193.6" r="2.15"/><circle cx="650.0" cy="194.2" r="2.15"/><circle cx="652.5" cy="194.2" r="2.15"/><circle cx="654.5" cy="195.9" r="2.15"/><circle cx="657.2" cy="196.6" r="2.15"/><circle cx="659.6" cy="197.3" r="2.15"/><circle cx="662.0" cy="197.5" r="2.15"/><circle cx="664.4" cy="197.5" r="2.15"/><circle cx="666.6" cy="196.4" r="2.15"/><circle cx="669.1" cy="197.3" r="2.15"/><circle cx="671.6" cy="198.1" r="2.15"/><circle cx="673.9" cy="199.1" r="2.15"/><circle cx="676.4" cy="198.4" r="2.15"/><circle cx="679.0" cy="200.4" r="2.15"/><circle cx="681.4" cy="199.9" r="2.15"/><circle cx="683.4" cy="198.9" r="2.15"/><circle cx="685.8" cy="198.8" r="2.15"/><circle cx="688.5" cy="198.8" r="2.15"/><circle cx="690.6" cy="201.5" r="2.15"/><circle cx="693.5" cy="200.9" r="2.15"/><circle cx="695.4" cy="201.2" r="2.15"/><circle cx="697.9" cy="200.9" r="2.15"/><circle cx="700.1" cy="199.7" r="2.15"/><circle cx="703.1" cy="200.8" r="2.15"/><circle cx="705.0" cy="199.7" r="2.15"/><circle cx="707.3" cy="200.5" r="2.15"/><circle cx="710.1" cy="200.8" r="2.15"/><circle cx="712.1" cy="200.9" r="2.15"/>
</g>
<g fill="#ff0000" clip-path="url(#cb)">
<circle cx="433.7" cy="59.3" r="2.15"/><circle cx="440.6" cy="60.4" r="2.15"/><circle cx="446.6" cy="60.0" r="2.15"/><circle cx="452.0" cy="60.0" r="2.15"/><circle cx="457.0" cy="60.7" r="2.15"/><circle cx="462.0" cy="61.9" r="2.15"/><circle cx="466.3" cy="61.4" r="2.15"/><circle cx="470.9" cy="62.9" r="2.15"/><circle cx="475.1" cy="62.9" r="2.15"/><circle cx="479.4" cy="63.6" r="2.15"/><circle cx="483.0" cy="64.7" r="2.15"/><circle cx="486.5" cy="65.9" r="2.15"/><circle cx="489.8" cy="67.2" r="2.15"/><circle cx="492.9" cy="67.1" r="2.15"/><circle cx="495.9" cy="67.8" r="2.15"/><circle cx="498.8" cy="68.6" r="2.15"/><circle cx="501.6" cy="68.8" r="2.15"/><circle cx="504.3" cy="70.3" r="2.15"/><circle cx="506.9" cy="71.3" r="2.15"/><circle cx="509.4" cy="72.6" r="2.15"/><circle cx="511.8" cy="72.3" r="2.15"/><circle cx="514.1" cy="73.5" r="2.15"/><circle cx="516.4" cy="74.1" r="2.15"/><circle cx="518.6" cy="76.2" r="2.15"/><circle cx="520.7" cy="76.8" r="2.15"/><circle cx="522.8" cy="76.4" r="2.15"/><circle cx="524.8" cy="78.6" r="2.15"/><circle cx="526.7" cy="79.3" r="2.15"/><circle cx="528.7" cy="79.8" r="2.15"/><circle cx="530.5" cy="80.8" r="2.15"/><circle cx="532.3" cy="81.1" r="2.15"/><circle cx="534.1" cy="81.9" r="2.15"/><circle cx="535.8" cy="84.0" r="2.15"/><circle cx="537.5" cy="84.4" r="2.15"/><circle cx="539.1" cy="85.8" r="2.15"/><circle cx="540.7" cy="87.0" r="2.15"/><circle cx="542.3" cy="87.9" r="2.15"/><circle cx="543.8" cy="90.0" r="2.15"/><circle cx="545.4" cy="91.3" r="2.15"/><circle cx="546.8" cy="93.3" r="2.15"/><circle cx="548.3" cy="94.0" r="2.15"/><circle cx="549.7" cy="95.7" r="2.15"/><circle cx="551.1" cy="97.0" r="2.15"/><circle cx="552.4" cy="98.8" r="2.15"/><circle cx="553.8" cy="99.9" r="2.15"/><circle cx="555.1" cy="101.1" r="2.15"/><circle cx="556.4" cy="103.7" r="2.15"/><circle cx="557.7" cy="105.2" r="2.15"/><circle cx="558.9" cy="106.3" r="2.15"/><circle cx="560.1" cy="107.5" r="2.15"/><circle cx="561.3" cy="108.2" r="2.15"/><circle cx="562.5" cy="109.8" r="2.15"/><circle cx="563.7" cy="111.6" r="2.15"/><circle cx="564.8" cy="112.8" r="2.15"/><circle cx="566.0" cy="115.4" r="2.15"/><circle cx="567.1" cy="116.2" r="2.15"/><circle cx="568.2" cy="118.3" r="2.15"/><circle cx="569.2" cy="118.9" r="2.15"/><circle cx="570.3" cy="121.4" r="2.15"/><circle cx="571.3" cy="123.6" r="2.15"/><circle cx="572.4" cy="124.4" r="2.15"/><circle cx="573.4" cy="126.7" r="2.15"/><circle cx="574.4" cy="129.4" r="2.15"/><circle cx="575.4" cy="130.2" r="2.15"/><circle cx="576.4" cy="132.3" r="2.15"/><circle cx="577.3" cy="132.5" r="2.15"/><circle cx="578.3" cy="133.2" r="2.15"/><circle cx="574.2" cy="131.1" r="2.15"/><circle cx="578.2" cy="134.0" r="2.15"/><circle cx="577.6" cy="138.0" r="2.15"/><circle cx="580.5" cy="140.8" r="2.15"/><circle cx="575.9" cy="139.7" r="2.15"/><circle cx="585.6" cy="152.2" r="2.15"/><circle cx="591.3" cy="161.2" r="2.15"/><circle cx="595.8" cy="168.5" r="2.15"/><circle cx="600.4" cy="176.5" r="2.15"/><circle cx="605.0" cy="180.8" r="2.15"/><circle cx="608.9" cy="184.4" r="2.15"/><circle cx="611.1" cy="184.8" r="2.15"/><circle cx="612.4" cy="185.3" r="2.15"/><circle cx="614.1" cy="184.6" r="2.15"/><circle cx="616.0" cy="185.3" r="2.15"/><circle cx="617.5" cy="186.4" r="2.15"/><circle cx="619.1" cy="186.5" r="2.15"/><circle cx="620.6" cy="185.4" r="2.15"/><circle cx="622.4" cy="184.9" r="2.15"/><circle cx="624.0" cy="184.3" r="2.15"/><circle cx="625.5" cy="183.9" r="2.15"/><circle cx="626.9" cy="184.0" r="2.15"/><circle cx="628.3" cy="184.7" r="2.15"/><circle cx="630.4" cy="183.2" r="2.15"/><circle cx="631.6" cy="183.8" r="2.15"/><circle cx="633.7" cy="184.4" r="2.15"/><circle cx="635.0" cy="183.1" r="2.15"/><circle cx="636.5" cy="183.3" r="2.15"/><circle cx="638.0" cy="184.3" r="2.15"/><circle cx="639.5" cy="184.6" r="2.15"/><circle cx="641.6" cy="183.6" r="2.15"/><circle cx="643.0" cy="183.7" r="2.15"/><circle cx="644.6" cy="183.7" r="2.15"/><circle cx="645.9" cy="183.0" r="2.15"/><circle cx="648.1" cy="183.5" r="2.15"/><circle cx="649.5" cy="186.7" r="2.15"/><circle cx="650.9" cy="187.8" r="2.15"/><circle cx="652.7" cy="189.0" r="2.15"/><circle cx="654.0" cy="188.2" r="2.15"/><circle cx="655.8" cy="189.5" r="2.15"/><circle cx="657.4" cy="191.8" r="2.15"/><circle cx="659.2" cy="190.6" r="2.15"/><circle cx="660.6" cy="192.8" r="2.15"/><circle cx="662.2" cy="192.6" r="2.15"/><circle cx="664.0" cy="193.6" r="2.15"/><circle cx="665.4" cy="193.0" r="2.15"/><circle cx="667.1" cy="193.7" r="2.15"/><circle cx="668.5" cy="193.7" r="2.15"/><circle cx="670.3" cy="195.2" r="2.15"/><circle cx="671.8" cy="194.6" r="2.15"/><circle cx="673.3" cy="195.6" r="2.15"/><circle cx="675.3" cy="197.1" r="2.15"/><circle cx="676.9" cy="197.4" r="2.15"/><circle cx="678.5" cy="196.3" r="2.15"/><circle cx="679.6" cy="197.0" r="2.15"/><circle cx="681.6" cy="198.4" r="2.15"/><circle cx="682.9" cy="195.7" r="2.15"/><circle cx="684.5" cy="198.4" r="2.15"/><circle cx="685.9" cy="196.5" r="2.15"/><circle cx="687.9" cy="195.7" r="2.15"/><circle cx="689.7" cy="199.1" r="2.15"/><circle cx="690.7" cy="197.3" r="2.15"/><circle cx="692.8" cy="196.7" r="2.15"/><circle cx="694.3" cy="198.5" r="2.15"/><circle cx="695.8" cy="196.3" r="2.15"/><circle cx="697.5" cy="197.2" r="2.15"/><circle cx="699.3" cy="196.6" r="2.15"/><circle cx="700.4" cy="199.0" r="2.15"/><circle cx="702.4" cy="197.0" r="2.15"/><circle cx="704.1" cy="197.1" r="2.15"/><circle cx="705.5" cy="198.1" r="2.15"/><circle cx="706.8" cy="198.7" r="2.15"/><circle cx="708.5" cy="197.2" r="2.15"/><circle cx="710.3" cy="198.7" r="2.15"/><circle cx="712.0" cy="196.7" r="2.15"/>
</g>
<line x1="59.5" y1="28.3" x2="59.5" y2="240.2" stroke="#2a2a2a" stroke-width="1"/>
<line x1="55.5" y1="236.2" x2="341.5" y2="236.2" stroke="#2a2a2a" stroke-width="1"/>
<line x1="55.5" y1="28.30" x2="59.5" y2="28.30" stroke="#2a2a2a"/>
<line x1="57.3" y1="76.74" x2="59.5" y2="76.74" stroke="#2a2a2a"/>
<line x1="57.3" y1="64.54" x2="59.5" y2="64.54" stroke="#2a2a2a"/>
<line x1="57.3" y1="55.88" x2="59.5" y2="55.88" stroke="#2a2a2a"/>
<line x1="57.3" y1="49.16" x2="59.5" y2="49.16" stroke="#2a2a2a"/>
<line x1="57.3" y1="43.67" x2="59.5" y2="43.67" stroke="#2a2a2a"/>
<line x1="57.3" y1="39.03" x2="59.5" y2="39.03" stroke="#2a2a2a"/>
<line x1="57.3" y1="35.02" x2="59.5" y2="35.02" stroke="#2a2a2a"/>
<line x1="57.3" y1="31.47" x2="59.5" y2="31.47" stroke="#2a2a2a"/>
<line x1="55.5" y1="97.60" x2="59.5" y2="97.60" stroke="#2a2a2a"/>
<line x1="57.3" y1="146.04" x2="59.5" y2="146.04" stroke="#2a2a2a"/>
<line x1="57.3" y1="133.84" x2="59.5" y2="133.84" stroke="#2a2a2a"/>
<line x1="57.3" y1="125.18" x2="59.5" y2="125.18" stroke="#2a2a2a"/>
<line x1="57.3" y1="118.46" x2="59.5" y2="118.46" stroke="#2a2a2a"/>
<line x1="57.3" y1="112.97" x2="59.5" y2="112.97" stroke="#2a2a2a"/>
<line x1="57.3" y1="108.33" x2="59.5" y2="108.33" stroke="#2a2a2a"/>
<line x1="57.3" y1="104.32" x2="59.5" y2="104.32" stroke="#2a2a2a"/>
<line x1="57.3" y1="100.77" x2="59.5" y2="100.77" stroke="#2a2a2a"/>
<line x1="55.5" y1="166.90" x2="59.5" y2="166.90" stroke="#2a2a2a"/>
<line x1="57.3" y1="215.34" x2="59.5" y2="215.34" stroke="#2a2a2a"/>
<line x1="57.3" y1="203.14" x2="59.5" y2="203.14" stroke="#2a2a2a"/>
<line x1="57.3" y1="194.48" x2="59.5" y2="194.48" stroke="#2a2a2a"/>
<line x1="57.3" y1="187.76" x2="59.5" y2="187.76" stroke="#2a2a2a"/>
<line x1="57.3" y1="182.27" x2="59.5" y2="182.27" stroke="#2a2a2a"/>
<line x1="57.3" y1="177.63" x2="59.5" y2="177.63" stroke="#2a2a2a"/>
<line x1="57.3" y1="173.62" x2="59.5" y2="173.62" stroke="#2a2a2a"/>
<line x1="57.3" y1="170.07" x2="59.5" y2="170.07" stroke="#2a2a2a"/>
<line x1="59.50" y1="236.2" x2="59.50" y2="240.2" stroke="#2a2a2a"/>
<line x1="109.47" y1="236.2" x2="109.47" y2="238.79999999999998" stroke="#2a2a2a"/>
<line x1="138.70" y1="236.2" x2="138.70" y2="238.79999999999998" stroke="#2a2a2a"/>
<line x1="159.44" y1="236.2" x2="159.44" y2="238.79999999999998" stroke="#2a2a2a"/>
<line x1="175.53" y1="236.2" x2="175.53" y2="238.79999999999998" stroke="#2a2a2a"/>
<line x1="188.67" y1="236.2" x2="188.67" y2="238.79999999999998" stroke="#2a2a2a"/>
<line x1="199.79" y1="236.2" x2="199.79" y2="238.79999999999998" stroke="#2a2a2a"/>
<line x1="209.41" y1="236.2" x2="209.41" y2="238.79999999999998" stroke="#2a2a2a"/>
<line x1="217.90" y1="236.2" x2="217.90" y2="238.79999999999998" stroke="#2a2a2a"/>
<line x1="225.50" y1="236.2" x2="225.50" y2="240.2" stroke="#2a2a2a"/>
<line x1="275.47" y1="236.2" x2="275.47" y2="238.79999999999998" stroke="#2a2a2a"/>
<line x1="304.70" y1="236.2" x2="304.70" y2="238.79999999999998" stroke="#2a2a2a"/>
<line x1="325.44" y1="236.2" x2="325.44" y2="238.79999999999998" stroke="#2a2a2a"/>
<line x1="341.53" y1="236.2" x2="341.53" y2="238.79999999999998" stroke="#2a2a2a"/>
<line x1="431.0" y1="28.3" x2="431.0" y2="240.2" stroke="#2a2a2a" stroke-width="1"/>
<line x1="427.0" y1="236.2" x2="712.8" y2="236.2" stroke="#2a2a2a" stroke-width="1"/>
<line x1="427.0" y1="28.30" x2="431.0" y2="28.30" stroke="#2a2a2a"/>
<line x1="428.8" y1="76.74" x2="431.0" y2="76.74" stroke="#2a2a2a"/>
<line x1="428.8" y1="64.54" x2="431.0" y2="64.54" stroke="#2a2a2a"/>
<line x1="428.8" y1="55.88" x2="431.0" y2="55.88" stroke="#2a2a2a"/>
<line x1="428.8" y1="49.16" x2="431.0" y2="49.16" stroke="#2a2a2a"/>
<line x1="428.8" y1="43.67" x2="431.0" y2="43.67" stroke="#2a2a2a"/>
<line x1="428.8" y1="39.03" x2="431.0" y2="39.03" stroke="#2a2a2a"/>
<line x1="428.8" y1="35.02" x2="431.0" y2="35.02" stroke="#2a2a2a"/>
<line x1="428.8" y1="31.47" x2="431.0" y2="31.47" stroke="#2a2a2a"/>
<line x1="427.0" y1="97.60" x2="431.0" y2="97.60" stroke="#2a2a2a"/>
<line x1="428.8" y1="146.04" x2="431.0" y2="146.04" stroke="#2a2a2a"/>
<line x1="428.8" y1="133.84" x2="431.0" y2="133.84" stroke="#2a2a2a"/>
<line x1="428.8" y1="125.18" x2="431.0" y2="125.18" stroke="#2a2a2a"/>
<line x1="428.8" y1="118.46" x2="431.0" y2="118.46" stroke="#2a2a2a"/>
<line x1="428.8" y1="112.97" x2="431.0" y2="112.97" stroke="#2a2a2a"/>
<line x1="428.8" y1="108.33" x2="431.0" y2="108.33" stroke="#2a2a2a"/>
<line x1="428.8" y1="104.32" x2="431.0" y2="104.32" stroke="#2a2a2a"/>
<line x1="428.8" y1="100.77" x2="431.0" y2="100.77" stroke="#2a2a2a"/>
<line x1="427.0" y1="166.90" x2="431.0" y2="166.90" stroke="#2a2a2a"/>
<line x1="428.8" y1="215.34" x2="431.0" y2="215.34" stroke="#2a2a2a"/>
<line x1="428.8" y1="203.14" x2="431.0" y2="203.14" stroke="#2a2a2a"/>
<line x1="428.8" y1="194.48" x2="431.0" y2="194.48" stroke="#2a2a2a"/>
<line x1="428.8" y1="187.76" x2="431.0" y2="187.76" stroke="#2a2a2a"/>
<line x1="428.8" y1="182.27" x2="431.0" y2="182.27" stroke="#2a2a2a"/>
<line x1="428.8" y1="177.63" x2="431.0" y2="177.63" stroke="#2a2a2a"/>
<line x1="428.8" y1="173.62" x2="431.0" y2="173.62" stroke="#2a2a2a"/>
<line x1="428.8" y1="170.07" x2="431.0" y2="170.07" stroke="#2a2a2a"/>
<line x1="431.00" y1="236.2" x2="431.00" y2="240.2" stroke="#2a2a2a"/>
<line x1="480.97" y1="236.2" x2="480.97" y2="238.79999999999998" stroke="#2a2a2a"/>
<line x1="510.20" y1="236.2" x2="510.20" y2="238.79999999999998" stroke="#2a2a2a"/>
<line x1="530.94" y1="236.2" x2="530.94" y2="238.79999999999998" stroke="#2a2a2a"/>
<line x1="547.03" y1="236.2" x2="547.03" y2="238.79999999999998" stroke="#2a2a2a"/>
<line x1="560.17" y1="236.2" x2="560.17" y2="238.79999999999998" stroke="#2a2a2a"/>
<line x1="571.29" y1="236.2" x2="571.29" y2="238.79999999999998" stroke="#2a2a2a"/>
<line x1="580.91" y1="236.2" x2="580.91" y2="238.79999999999998" stroke="#2a2a2a"/>
<line x1="589.40" y1="236.2" x2="589.40" y2="238.79999999999998" stroke="#2a2a2a"/>
<line x1="597.00" y1="236.2" x2="597.00" y2="240.2" stroke="#2a2a2a"/>
<line x1="646.97" y1="236.2" x2="646.97" y2="238.79999999999998" stroke="#2a2a2a"/>
<line x1="676.20" y1="236.2" x2="676.20" y2="238.79999999999998" stroke="#2a2a2a"/>
<line x1="696.94" y1="236.2" x2="696.94" y2="238.79999999999998" stroke="#2a2a2a"/>
<line x1="713.03" y1="236.2" x2="713.03" y2="238.79999999999998" stroke="#2a2a2a"/>
<line x1="260.1" y1="33.5" x2="332.0" y2="33.5" stroke="#555"/><line x1="260.1" y1="152.9" x2="332.0" y2="152.9" stroke="#555"/><line x1="260.1" y1="33.5" x2="260.1" y2="152.9" stroke="#555"/><line x1="332.0" y1="33.5" x2="332.0" y2="152.9" stroke="#555"/>
<line x1="622.5" y1="31.5" x2="704.5" y2="31.5" stroke="#6a6a6a"/><line x1="622.5" y1="151.5" x2="704.5" y2="151.5" stroke="#6a6a6a"/><line x1="622.5" y1="31.5" x2="622.5" y2="151.5" stroke="#6a6a6a"/><line x1="704.5" y1="31.5" x2="704.5" y2="151.5" stroke="#6a6a6a"/>
<circle cx="276.4" cy="89.5" r="2.9" fill="#0000ff"/>
<circle cx="276.4" cy="105.3" r="2.9" fill="#00ffff"/>
<circle cx="276.4" cy="121.1" r="2.9" fill="#00ff00"/>
<circle cx="276.4" cy="137" r="2.9" fill="#ff0000"/>
<circle cx="638.9" cy="88.1" r="2.9" fill="#0000ff"/>
<circle cx="638.9" cy="104.1" r="2.9" fill="#00ffff"/>
<circle cx="638.9" cy="119.8" r="2.9" fill="#00ff00"/>
<circle cx="638.9" cy="135.6" r="2.9" fill="#ff0000"/>
</svg>
<div class="t" style="left:0px;top:-2.3px;font-size:24px">A</div>
<div class="t" style="left:370.6px;top:-3.2px;font-size:24px">B</div>

<div class="t" style="right:664.8px;top:22.42px;font-size:12.5px">10<span class="sp">0</span></div>
<div class="t" style="right:664.8px;top:91.72px;font-size:12.5px">10<span class="sp">-1</span></div>
<div class="t" style="right:664.8px;top:161.12px;font-size:12.5px">10<span class="sp">-2</span></div>
<div class="t" style="right:664.8px;top:230.52px;font-size:12.5px">10<span class="sp">-3</span></div>

<div class="t" style="right:289.8px;top:22.42px;font-size:12.5px">10<span class="sp">0</span></div>
<div class="t" style="right:289.8px;top:91.72px;font-size:12.5px">10<span class="sp">-1</span></div>
<div class="t" style="right:289.8px;top:161.12px;font-size:12.5px">10<span class="sp">-2</span></div>
<div class="t" style="right:289.8px;top:230.52px;font-size:12.5px">10<span class="sp">-3</span></div>

<div class="t" style="left:47px;top:242.84px;font-size:12px">0.01</div>
<div class="t" style="left:216.2px;top:242.84px;font-size:12px">0.1</div>
<div class="t" style="left:418.8px;top:242.84px;font-size:12px">0.01</div>
<div class="t" style="left:588px;top:242.84px;font-size:12px">0.1</div>

<div class="t" style="left:2.8px;top:186.9px;font-size:16.7px;transform-origin:0 0;transform:rotate(-90deg)">Intensity / cm<span class="sl">-1</span></div>
<div class="t" style="left:374.5px;top:187.2px;font-size:16.7px;transform-origin:0 0;transform:rotate(-90deg)">Intensity / cm<span class="sl">-1</span></div>

<div class="t" style="left:121.2px;top:264.2px;font-size:16.6px">Scattering vector / Å<span class="sl">-1</span></div>
<div class="t" style="left:492.3px;top:264.2px;font-size:16.6px">Scattering vector / Å<span class="sl">-1</span></div>

<div class="t" style="left:261.85px;top:51.07px;font-size:12.5px;font-weight:bold">H2A nucl.</div>
<div class="t" style="left:265.1px;top:67.24px;font-size:12.5px">D<span class="sb">2</span>O ratio</div>
<div class="t" style="right:387.3px;top:84.64px;font-size:12.5px">0%</div>
<div class="t" style="right:387.3px;top:100.44px;font-size:12.5px">40%</div>
<div class="t" style="right:387.3px;top:116.24px;font-size:12.5px">65%</div>
<div class="t" style="right:387.3px;top:132.04px;font-size:12.5px">100%</div>

<div class="t" style="left:624.1px;top:49.90px;font-size:12.5px;font-weight:bold">H2A.Z1 nucl.</div>
<div class="t" style="left:627.7px;top:66.00px;font-size:12.5px">D<span class="sb">2</span>O ratio</div>
<div class="t" style="right:24.6px;top:82.84px;font-size:12.5px">0%</div>
<div class="t" style="right:24.6px;top:98.64px;font-size:12.5px">40%</div>
<div class="t" style="right:24.6px;top:114.34px;font-size:12.5px">65%</div>
<div class="t" style="right:24.6px;top:129.94px;font-size:12.5px">100%</div>

</body></html>
